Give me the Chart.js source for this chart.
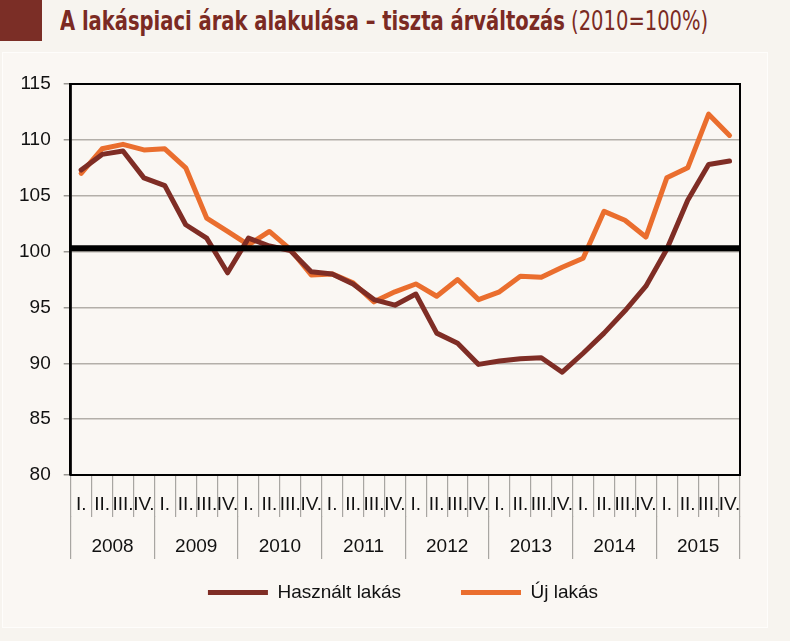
<!DOCTYPE html>
<html>
<head>
<meta charset="utf-8">
<script src="https://cdn.jsdelivr.net/npm/chart.js@4/dist/chart.umd.min.js"></script>
<style>
  html, body { margin: 0; padding: 0; }
  body { width: 790px; height: 641px; background: #f7f4ef; position: relative; overflow: hidden; font-family: "Liberation Sans", Arial, sans-serif; }
  #sq { position: absolute; left: 0; top: 0; width: 42px; height: 41px; background: #7b2e26; }
  #title { position: absolute; left: 60px; top: 4px; white-space: nowrap; color: #7b2a23; font-family: "DejaVu Sans Condensed", "Liberation Sans Narrow", sans-serif; font-size: 26px; line-height: 34px; transform: scaleX(0.835); transform-origin: 0 0; }
  #title b { font-weight: bold; }
  #title span { font-weight: normal; }
  #panel { position: absolute; left: 2px; top: 52px; width: 764px; height: 574px; background: #faf7f3; border: 1px solid #fefdfb; }
  #c { position: absolute; left: 2px; top: 53px; }
</style>
</head>
<body>
<div id="sq"></div>
<div id="title"><b>A lakáspiaci árak alakulása – tiszta árváltozás</b><span> (2010=100%)</span></div>
<div id="panel"></div>
<canvas id="c" width="766" height="595"></canvas>
<script>
const quarters = ["I.","II.","III.","IV.","I.","II.","III.","IV.","I.","II.","III.","IV.","I.","II.","III.","IV.",
                  "I.","II.","III.","IV.","I.","II.","III.","IV.","I.","II.","III.","IV.","I.","II.","III.","IV."];
const years = ["2008","2009","2010","2011","2012","2013","2014","2015"];
const usedFlats = [107.3,108.7,109.0,106.6,105.9,102.4,101.2,98.1,
                   101.2,100.5,100.1,98.2,98.0,97.1,95.7,95.2,
                   96.2,92.7,91.8,89.9,90.2,90.4,90.5,89.2,
                   90.9,92.7,94.7,96.9,100.2,104.6,107.8,108.1];
const newFlats  = [107.0,109.2,109.6,109.1,109.2,107.5,103.0,101.8,
                   100.6,101.8,100.2,97.9,98.0,97.2,95.5,96.4,
                   97.1,96.0,97.5,95.7,96.4,97.8,97.7,98.6,
                   99.4,103.6,102.8,101.3,106.6,107.5,112.3,110.4];
const seriesNames = ["Használt lakás", "Új lakás"];
const referenceLevel = 100.3;
const yTicks = [80, 85, 90, 95, 100, 105, 110, 115];

const framePlugin = {
  id: 'frameAndRef',
  afterDatasetsDraw(chart) {
    const {ctx, chartArea: a, scales: {y}} = chart;
    ctx.save();
    const yy = y.getPixelForValue(referenceLevel);
    ctx.strokeStyle = '#000';
    ctx.lineWidth = 6;
    ctx.beginPath();
    ctx.moveTo(a.left, yy);
    ctx.lineTo(a.right, yy);
    ctx.stroke();
    ctx.lineWidth = 2;
    ctx.strokeRect(a.left, a.top, a.right - a.left, a.bottom - a.top);
    ctx.restore();
  }
};

const legendShift = {
  id: 'legendShift',
  afterLayout(chart) {
    const lg = chart.legend;
    if (!lg) return;
    lg.left += 30; lg.right += 30;
    lg.top -= 36; lg.bottom -= 36;
  }
};

const tickFont = { family: "'Liberation Sans', Arial, sans-serif", size: 19 };

new Chart(document.getElementById('c'), {
  type: 'line',
  data: {
    labels: quarters,
    datasets: [
      { label: seriesNames[0], data: usedFlats, borderColor: '#7f2d25', backgroundColor: '#7f2d25', borderWidth: 5, pointRadius: 0, tension: 0, borderJoinStyle: 'round', borderCapStyle: 'round' },
      { label: seriesNames[1], data: newFlats, borderColor: '#ea6e2e', backgroundColor: '#ea6e2e', borderWidth: 5, pointRadius: 0, tension: 0, borderJoinStyle: 'round', borderCapStyle: 'round' }
    ]
  },
  options: {
    responsive: false,
    animation: false,
    devicePixelRatio: 1,
    layout: { padding: { left: 4, right: 28, top: 31, bottom: 0 } },
    plugins: {
      tooltip: { enabled: false },
      legend: {
        position: 'bottom',
        labels: {
          color: '#111',
          font: tickFont,
          boxWidth: 60,
          boxHeight: 5,
          padding: 60,
          useBorderRadius: true,
          borderRadius: 2.5,
          generateLabels(chart) {
            return chart.data.datasets.map((ds, i) => ({
              text: ds.label, fillStyle: ds.borderColor, strokeStyle: ds.borderColor,
              lineWidth: 0, hidden: false, datasetIndex: i, fontColor: '#111'
            }));
          }
        }
      }
    },
    scales: {
      x: {
        type: 'category',
        offset: true,
        grid: { offset: true, drawOnChartArea: false, drawTicks: true, tickLength: 42, color: '#a8a6a2', tickColor: '#a8a6a2', lineWidth: 1.2 },
        border: { display: true, color: '#000', width: 2 },
        ticks: { autoSkip: false, maxRotation: 0, minRotation: 0, padding: -24, color: '#111', font: tickFont },
        afterFit(s) { s.height = 41; }
      },
      x2: {
        type: 'category',
        position: 'bottom',
        labels: years,
        offset: true,
        grid: { offset: true, drawOnChartArea: false, drawTicks: true, tickLength: 43, color: '#a8a6a2', tickColor: '#a8a6a2', lineWidth: 1.2 },
        border: { display: false },
        ticks: { autoSkip: false, maxRotation: 0, minRotation: 0, padding: -24, color: '#111', font: tickFont },
        afterFit(s) { s.height = 43; }
      },
      y: {
        min: 80, max: 115,
        afterBuildTicks(s) { s.ticks = yTicks.map(v => ({ value: v })); },
        grid: { color: '#b3afa9', lineWidth: 1.5, tickLength: 7, tickColor: '#9a9792' },
        border: { display: true, color: '#000', width: 2.5 },
        ticks: { padding: 13, color: '#111', font: tickFont }
      }
    }
  },
  plugins: [framePlugin, legendShift]
});
</script>
</body>
</html>
